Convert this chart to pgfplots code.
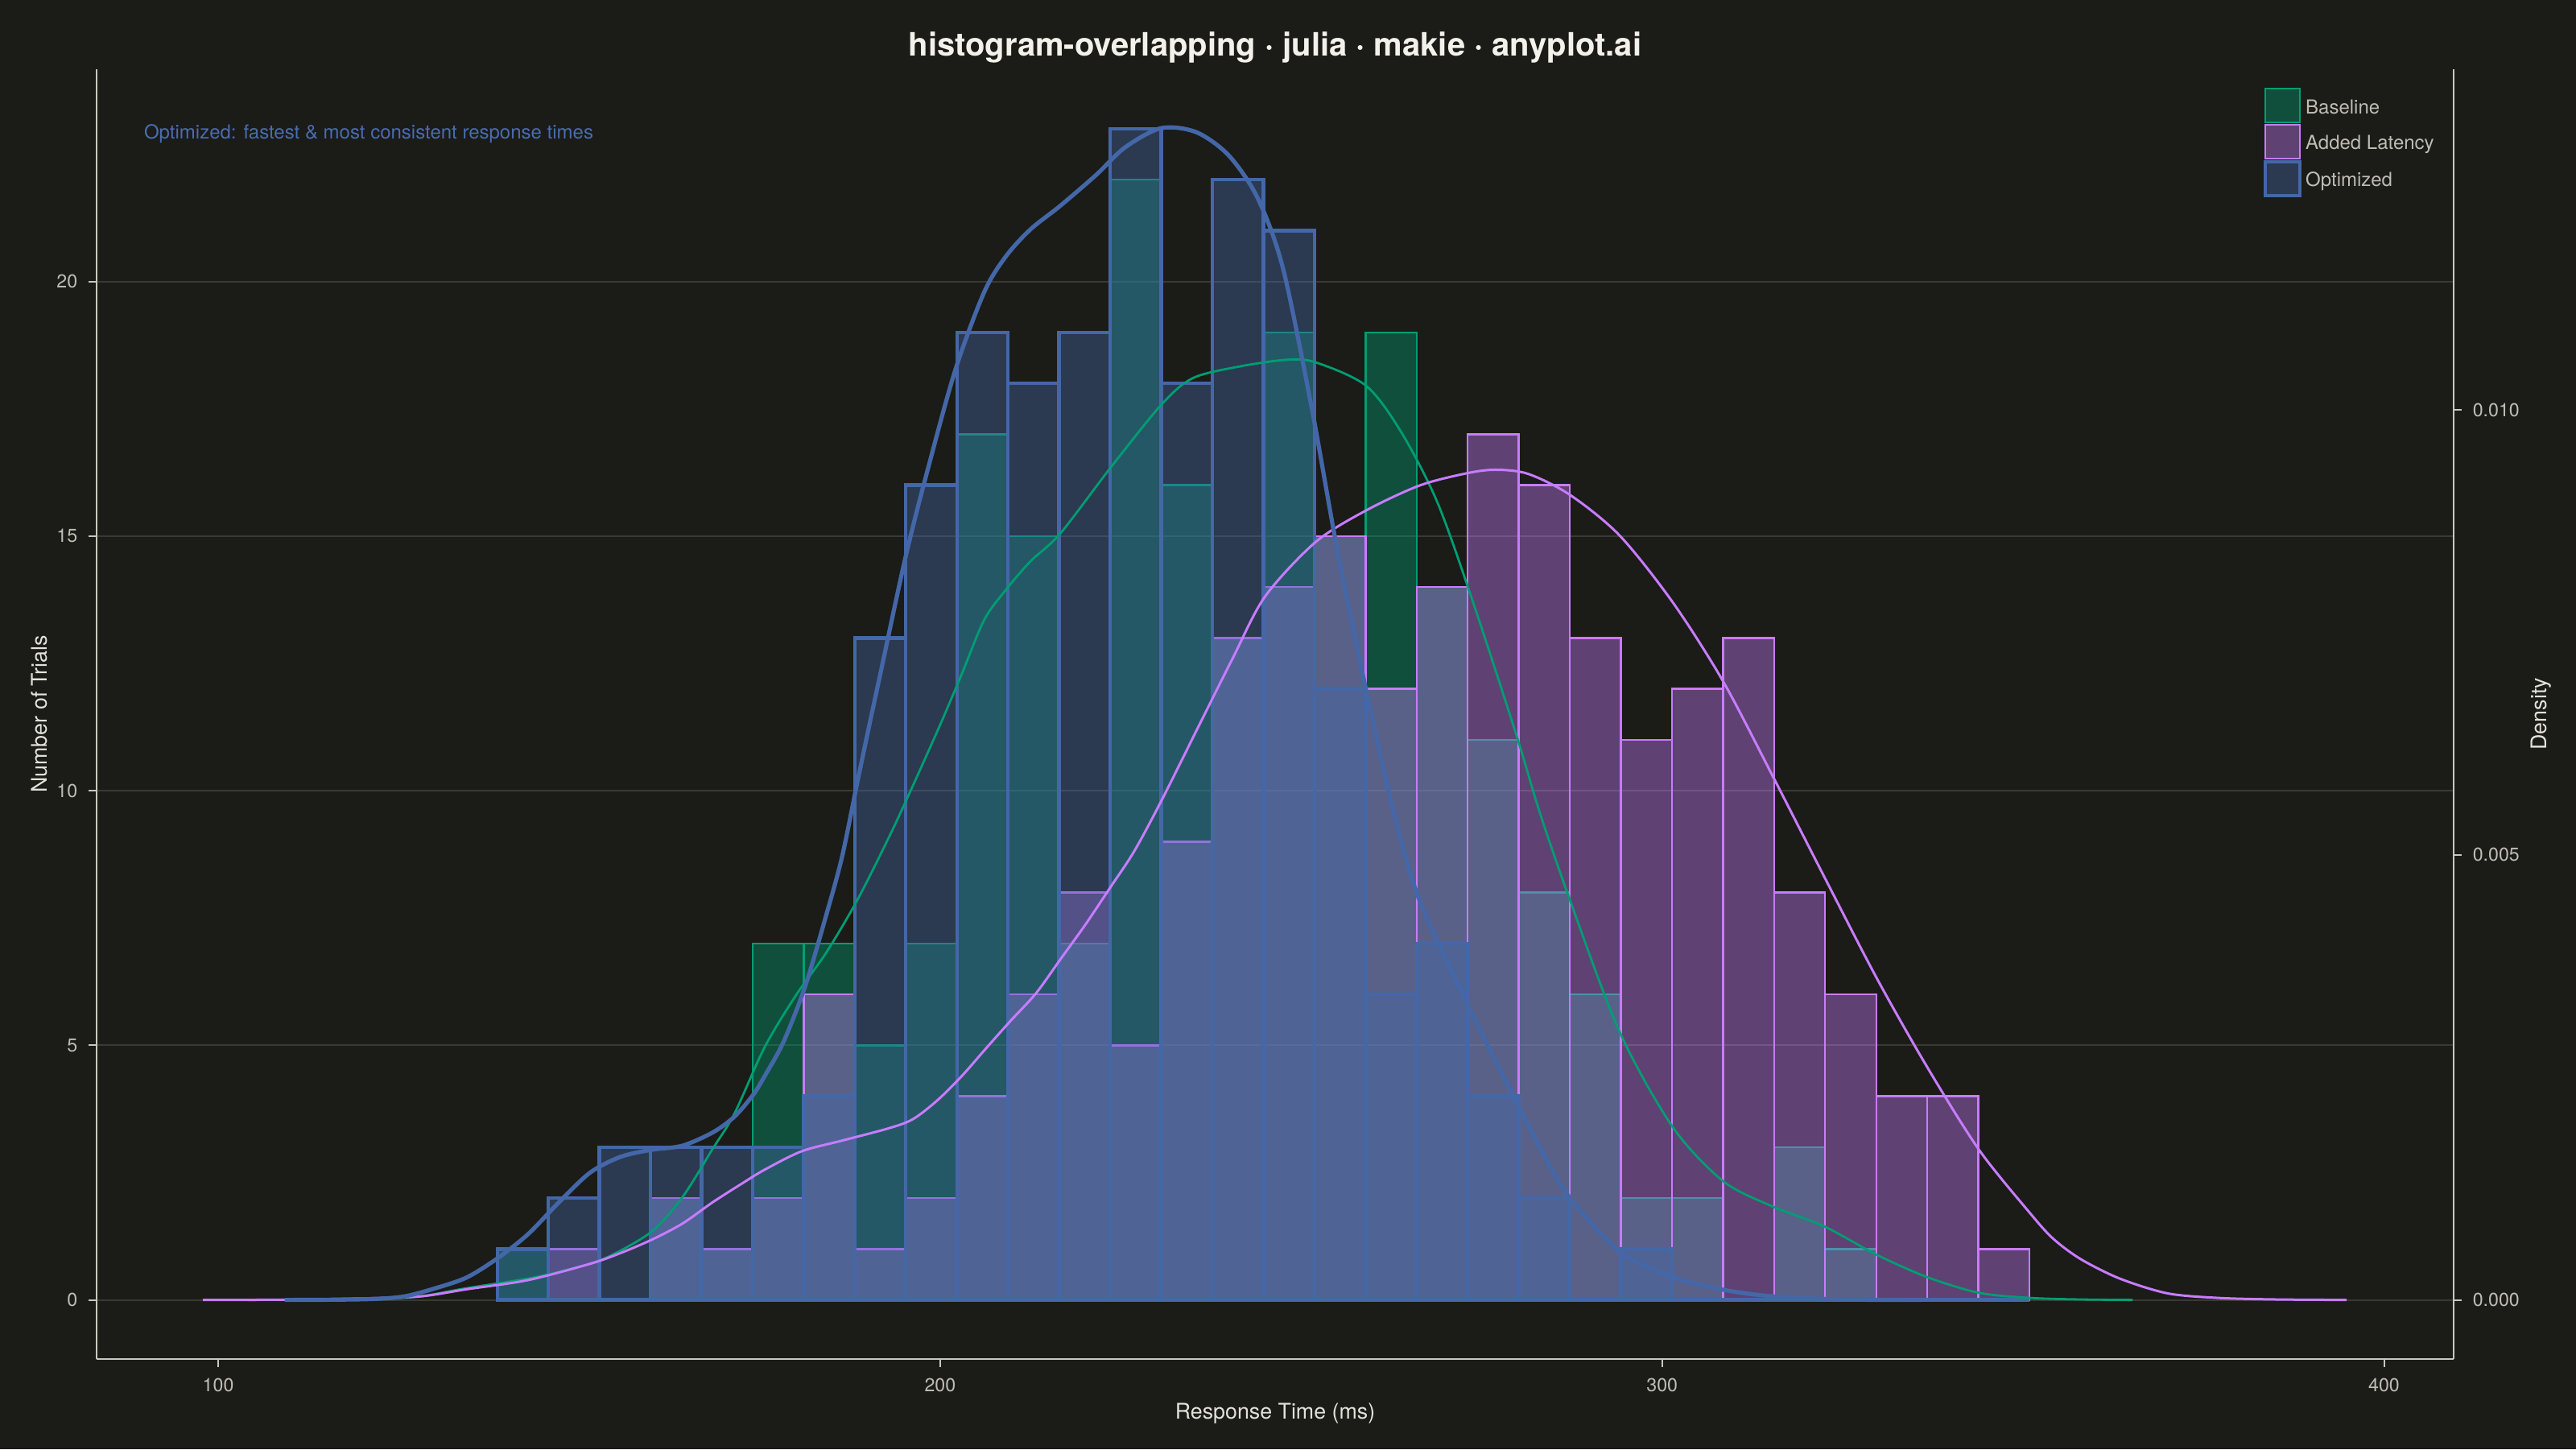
\documentclass[border=0pt]{standalone}
\usepackage{pgfplots}
\pgfplotsset{compat=1.18}
\usepackage{pgfplotstable}
\usepackage{fontspec}
\setmainfont{TeX Gyre Heros}

\definecolor{bgc}{HTML}{1B1B17}
\definecolor{gridc}{HTML}{3A3A35}
\definecolor{spinec}{HTML}{C8C8BE}
\definecolor{tickc}{HTML}{BDBDB4}
\definecolor{labelc}{HTML}{E2E2DA}
\definecolor{titlec}{HTML}{F2F2EA}
\definecolor{cgreen}{HTML}{009E73}
\definecolor{cpurple}{HTML}{C77CFF}
\definecolor{cblue}{HTML}{4467A8}
\definecolor{annc}{HTML}{4A6CB0}

% histogram counts per bin (left edges; last row = right end)
\pgfplotstableread{
edge G P B
138.66 1 0 1
145.73 0 1 2
152.81 0 0 3
159.88 2 2 3
166.96 1 1 3
174.03 7 2 3
181.10 7 6 4
188.18 5 1 13
195.25 7 2 16
202.33 17 4 19
209.40 15 6 18
216.47 7 8 19
223.55 22 5 23
230.62 16 9 18
237.70 13 13 22
244.77 19 14 21
251.84 15 15 12
258.92 19 12 6
265.99 14 14 7
273.07 11 17 4
280.14 8 16 2
287.21 6 13 0
294.29 2 11 1
301.36 2 12 0
308.44 0 13 0
315.51 3 8 0
322.58 1 6 0
329.66 0 4 0
336.73 0 4 0
343.81 0 1 0
350.88 0 0 0
}\hist

% density curves
\pgfplotstableread{
x d
109.2 0
116 0.0000029
121.6 0.0000114
125.8 0.0000400
130.1 0.000132
134.4 0.000252
138.6 0.000463
142.9 0.000738
147.2 0.001098
151.5 0.001430
155.7 0.001607
160.0 0.001687
164.3 0.001733
168.5 0.001882
171.5 0.002059
174.1 0.002305
175.7 0.002516
178.3 0.002899
181.3 0.003523
184.2 0.004318
186.4 0.004975
188.5 0.005805
190.2 0.006462
191.7 0.007029
195.2 0.008344
198.2 0.009305
202.1 0.010449
206.1 0.011323
209.1 0.011724
212.5 0.012027
216.6 0.012290
221.6 0.012639
225.6 0.012948
230.6 0.013165
235.5 0.013119
240.0 0.012856
244.0 0.012376
247.5 0.011586
251.5 0.010008
255.0 0.008430
259.0 0.006851
262.9 0.005450
266.4 0.004489
272.9 0.003346
279.9 0.002207
284 0.001573
287.2 0.001149
294.1 0.000543
301.5 0.000257
308.5 0.000114
315.4 0.0000400
325 0.0000057
336 0
}\kdeB

\pgfplotstableread{
x d
104 0
115 0.0000029
122 0.0000114
128 0.0000400
134.4 0.000132
142.9 0.000240
148 0.000332
153.6 0.000469
160.0 0.000766
164.3 0.001155
168.5 0.001699
171.5 0.002093
175.7 0.002842
180.0 0.003420
184.2 0.003900
188.5 0.004489
192.8 0.005181
195.8 0.005702
200.0 0.006462
203.0 0.007034
206.1 0.007640
209.1 0.007978
212.5 0.008298
216.6 0.008607
223.6 0.009350
230.6 0.010054
235.0 0.010357
241.5 0.010488
248.0 0.010563
252.0 0.010534
259.0 0.010271
263.9 0.009745
268.9 0.008956
273.9 0.007818
279.9 0.006325
283 0.005490
287.2 0.004501
294.1 0.003014
301.5 0.001939
308.5 0.001332
315.4 0.001047
322.4 0.000829
329.7 0.000509
336.7 0.000257
343.9 0.0000801
351.0 0.0000229
358 0.0000057
365.2 0
}\kdeG

\pgfplotstableread{
x d
97.9 0
108.8 0.0000029
120 0.0000172
128 0.0000400
134.4 0.000120
142.9 0.000223
151.5 0.000406
155.7 0.000526
160.0 0.000675
164.3 0.000858
168.5 0.001098
172.8 0.001321
175.7 0.001464
180.8 0.001670
186.4 0.001790
192.8 0.001927
196.2 0.002030
199.6 0.002242
203.0 0.002516
206.4 0.002831
209.8 0.003140
213.3 0.003448
216.7 0.003832
220.1 0.004215
223.5 0.004627
226.9 0.005044
230.8 0.005633
235.9 0.006462
240.5 0.007206
245.0 0.007903
252.0 0.008515
259.0 0.008870
266.4 0.009150
272.9 0.009287
276.9 0.009327
281.4 0.009282
287.2 0.009047
294.1 0.008590
301.5 0.007835
308.5 0.006943
315.4 0.005873
322.4 0.004764
329.7 0.003620
336.7 0.002619
343.9 0.001687
351.0 0.000972
354.2 0.000686
358 0.000458
363.4 0.000240
370 0.0000743
377 0.0000229
385 0.0000057
394.8 0
}\kdeP

\begin{document}
\begin{tikzpicture}
\fill[bgc] (0,0) rectangle (800pt,450pt);
\node[anchor=base, font=\fontsize{10}{12}\selectfont\bfseries, text=titlec] at (396pt,432.7pt) {histogram-overlapping · julia · makie · anyplot.ai};

\begin{axis}[
  at={(30.1pt,28.1pt)}, anchor=south west,
  scale only axis, width=731.8pt, height=400.4pt,
  xmin=83.2, xmax=409.6, ymin=-1.154, ymax=24.17,
  axis x line*=bottom, axis y line*=left,
  axis line style={-, draw=spinec, line width=0.5pt},
  xtick={100,200,300,400}, ytick={0,5,10,15,20},
  tick align=outside, major tick length=2.5pt,
  tick style={draw=spinec, line width=0.5pt},
  ymajorgrids, major grid style={draw=gridc, line width=0.5pt},
  ticklabel style={font=\fontsize{5.8}{7}\selectfont, text=tickc},
  /pgf/number format/assume math mode=true,
  xlabel={Response Time (ms)}, ylabel={Number of Trials},
  label style={font=\fontsize{6.7}{8}\selectfont, text=labelc},
  xlabel style={at={(axis description cs:0.5,-0.0425)}, anchor=center},
  ylabel style={at={(axis description cs:-0.0245,0.5)}, anchor=center},
  legend style={at={(rel axis cs:0.9195,0.9857)}, anchor=north west,
    draw=none, fill=none, inner sep=0pt, outer sep=0pt,
    font=\fontsize{6}{7}\selectfont, text=tickc, row sep=-0.31pt,
    /tikz/every odd column/.append style={column sep=-0.7pt}},
  legend cell align=left,
]
\addplot[ybar interval, fill=cgreen, fill opacity=0.4, draw=cgreen, line width=0.6pt, forget plot] table[x=edge, y=G] {\hist};
\addplot[ybar interval, fill=cpurple, fill opacity=0.4, draw=cpurple, line width=0.6pt, forget plot] table[x=edge, y=P] {\hist};
\addplot[ybar interval, fill=cblue, fill opacity=0.4, draw=cblue, line width=1.1pt, forget plot] table[x=edge, y=B] {\hist};

\addlegendimage{legend image code/.code={\filldraw[fill=cgreen, fill opacity=0.4, draw=cgreen, line width=0.6pt] (0pt,-4.2pt) rectangle (10.75pt,6.3pt);}}
\addlegendentry{Baseline}
\addlegendimage{legend image code/.code={\filldraw[fill=cpurple, fill opacity=0.4, draw=cpurple, line width=0.6pt] (0pt,-4.2pt) rectangle (10.75pt,6.3pt);}}
\addlegendentry{Added Latency}
\addlegendimage{legend image code/.code={\filldraw[fill=cblue, fill opacity=0.4, draw=cblue, line width=1.0pt] (0pt,-4.2pt) rectangle (10.75pt,6.3pt);}}
\addlegendentry{Optimized}

\node[anchor=base west, inner sep=0pt, font=\fontsize{6}{7}\selectfont, text=annc] at (axis cs:89.65,22.8) {Optimized: fastest \& most consistent response times};
\end{axis}

\begin{axis}[
  at={(30.1pt,28.1pt)}, anchor=south west,
  scale only axis, width=731.8pt, height=400.4pt,
  xmin=83.2, xmax=409.6, ymin=-0.000660, ymax=0.013827,
  axis x line=none, axis y line*=right,
  axis line style={-, draw=spinec, line width=0.5pt},
  ytick={0,0.005,0.01}, yticklabels={0.000,0.005,0.010},
  scaled y ticks=false,
  tick align=outside, major tick length=2.5pt,
  tick style={draw=spinec, line width=0.5pt},
  ticklabel style={font=\fontsize{5.8}{7}\selectfont, text=tickc},
  ylabel={Density},
  ylabel style={at={(axis description cs:1.0373,0.5)}, anchor=center, font=\fontsize{6.7}{8}\selectfont, text=labelc},
]
\addplot[cgreen, line width=0.7pt, smooth] table[x=x, y=d] {\kdeG};
\addplot[cpurple, line width=0.75pt, smooth] table[x=x, y=d] {\kdeP};
\addplot[cblue, line width=1.3pt, smooth] table[x=x, y=d] {\kdeB};
\end{axis}
\pgfresetboundingbox
\useasboundingbox (0,0) rectangle (800pt,450pt);
\end{tikzpicture}
\end{document}
